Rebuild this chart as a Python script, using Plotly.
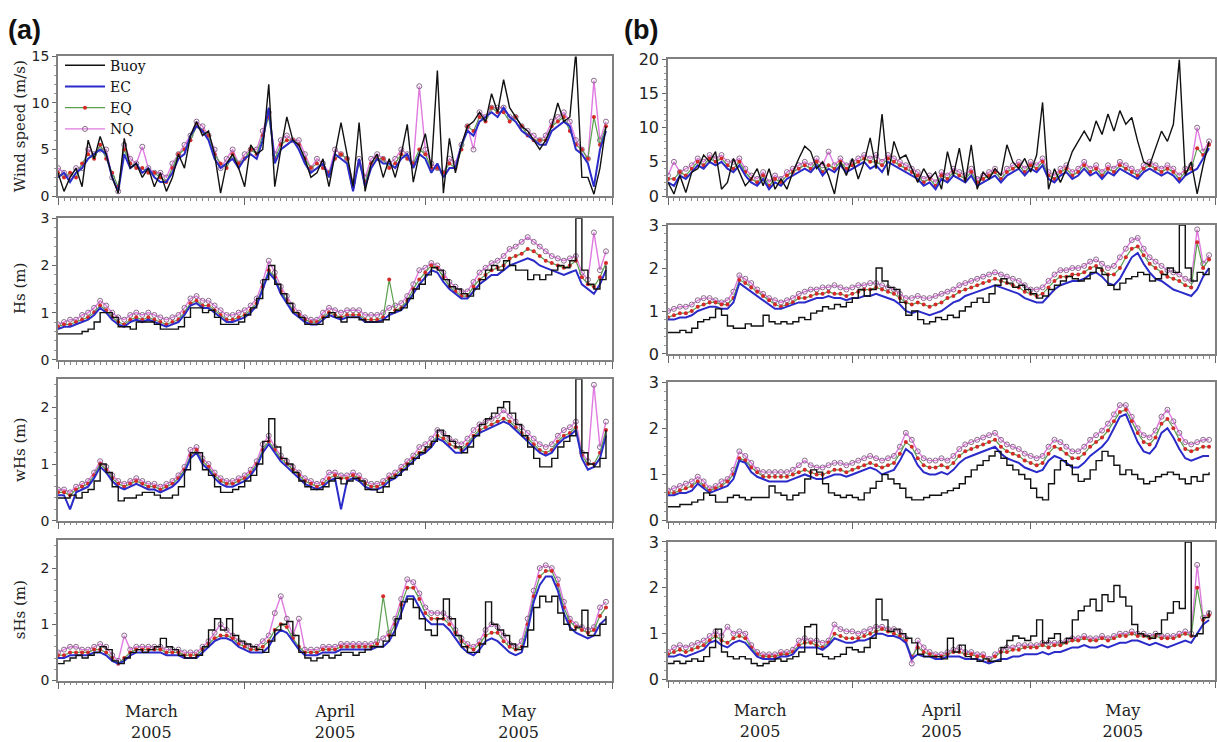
import pandas as pd
import plotly.graph_objects as go

# ---------------- data (daily values, 1 Mar 2005 .. 31 May 2005) ----------------
dates = pd.date_range("2005-03-01", periods=92, freq="D")

# (a) wind speed
a_wind_buoy = [2.5, 0.5, 2.0, 3.0, 1.0, 6.0, 4.0, 6.4, 4.5, 2.0,
               0.3, 6.2, 3.0, 3.5, 2.0, 3.0, 1.0, 2.5, 0.5, 2.0,
               4.5, 3.0, 6.5, 8.0, 6.5, 7.0, 4.5, 0.3, 3.5, 4.5,
               3.0, 1.0, 5.5, 4.5, 5.0, 12.0, 1.0, 5.0, 8.5, 6.0,
               5.5, 4.0, 2.0, 2.5, 4.0, 1.0, 4.5, 7.9, 4.5, 1.0,
               7.9, 0.5, 3.5, 4.5, 2.0, 4.0, 2.0, 4.5, 7.7, 1.5,
               4.5, 6.7, 3.0, 13.5, 0.3, 6.2, 2.5, 5.5, 7.5, 8.0,
               9.0, 8.0, 11.0, 9.0, 12.5, 9.5, 8.5, 7.5, 7.0, 6.0,
               5.0, 6.0, 7.5, 10.0, 8.0, 8.5, 15.5, 2.0, 2.0, 0.2,
               3.0, 7.5]
a_wind_ec = [2.0, 2.5, 1.5, 2.5, 3.0, 4.0, 4.5, 5.0, 4.5, 2.0,
             0.5, 4.5, 3.0, 3.5, 2.5, 3.0, 2.0, 1.5, 1.5, 2.5,
             4.0, 4.5, 6.5, 7.5, 7.0, 6.0, 4.0, 3.0, 3.5, 4.0,
             3.0, 4.0, 4.5, 4.0, 6.0, 9.5, 3.5, 5.0, 5.5, 6.0,
             5.0, 3.5, 2.5, 3.0, 3.5, 2.0, 4.5, 4.0, 3.5, 0.5,
             4.0, 1.0, 3.0, 4.0, 3.5, 3.5, 3.0, 4.0, 4.5, 3.0,
             4.5, 4.0, 2.5, 3.5, 2.0, 3.0, 3.0, 5.5, 7.0, 6.5,
             8.0, 8.5, 9.0, 8.5, 9.5, 8.5, 8.0, 7.0, 6.5, 6.0,
             5.5, 5.5, 7.0, 7.5, 8.0, 7.5, 5.0, 4.5, 3.5, 1.0,
             5.0, 7.0]
a_wind_eq = [2.5, 2.0, 2.5, 2.0, 3.5, 4.5, 4.0, 5.5, 4.0, 2.5,
             1.0, 5.0, 3.5, 3.0, 3.0, 2.5, 2.5, 2.0, 1.5, 3.0,
             4.5, 5.0, 6.0, 7.5, 7.0, 6.5, 4.5, 3.5, 3.0, 4.5,
             3.5, 4.0, 5.0, 4.5, 6.5, 8.5, 4.0, 5.5, 6.0, 6.0,
             5.5, 4.0, 3.0, 3.5, 3.0, 2.5, 4.0, 4.5, 4.0, 1.0,
             3.5, 1.5, 3.5, 4.0, 4.0, 3.0, 3.5, 4.5, 4.0, 3.5,
             5.0, 4.5, 3.0, 3.0, 2.5, 3.5, 3.0, 5.0, 7.5, 7.0,
             8.5, 8.0, 9.5, 9.0, 9.0, 8.0, 8.5, 7.5, 6.5, 6.0,
             6.0, 6.0, 7.5, 8.0, 8.5, 7.0, 5.5, 5.0, 4.0, 8.5,
             5.5, 7.5]
a_wind_nq = [3.0, 2.5, 2.0, 3.0, 3.0, 5.0, 4.5, 5.0, 5.0, 2.0,
             0.5, 5.5, 4.0, 3.5, 5.3, 3.0, 2.5, 2.5, 2.0, 3.5,
             4.5, 5.5, 6.5, 8.0, 7.5, 6.5, 5.0, 3.0, 4.0, 5.0,
             3.5, 4.5, 5.0, 5.0, 7.0, 9.0, 4.5, 6.0, 6.5, 6.0,
             6.0, 4.5, 3.0, 4.0, 3.5, 2.5, 5.0, 4.5, 4.0, 1.5,
             4.0, 2.0, 4.0, 4.5, 4.0, 3.5, 4.0, 5.0, 4.5, 3.5,
             11.8, 5.0, 3.5, 3.0, 2.5, 4.0, 3.5, 5.5, 7.5, 5.0,
             9.0, 8.5, 9.5, 9.5, 9.5, 8.5, 8.5, 7.5, 7.0, 6.5,
             6.0, 6.5, 8.0, 8.5, 9.0, 8.0, 6.0, 5.0, 4.0, 12.4,
             6.0, 8.0]

# (a) Hs
a_hs_buoy = [0.55, 0.55, 0.55, 0.55, 0.6, 0.65, 0.8, 1.0, 1.0, 0.9,
             0.7, 0.7, 0.65, 0.8, 0.8, 0.8, 0.75, 0.65, 0.65, 0.65,
             0.7, 0.9, 1.1, 1.1, 1.0, 1.05, 0.9, 0.75, 0.75, 0.75,
             0.8, 0.95, 1.1, 1.3, 1.7, 2.0, 1.6, 1.4, 1.2, 1.0,
             0.9, 0.75, 0.75, 0.75, 0.9, 1.0, 0.9, 0.8, 0.9, 0.9,
             0.85, 0.8, 0.8, 0.8, 0.85, 1.0, 1.05, 1.1, 1.3, 1.5,
             1.6, 1.8, 1.95, 1.9, 1.7, 1.55, 1.5, 1.4, 1.35, 1.5,
             1.7, 1.9, 2.0, 1.9, 2.1, 2.0, 1.9, 1.9, 1.7, 1.8,
             1.7, 1.8, 1.9, 2.0, 1.95, 2.1, 3.0, 1.9, 1.6, 1.5,
             1.7, 2.0]
a_hs_ec = [0.65, 0.7, 0.7, 0.75, 0.8, 0.85, 0.95, 1.1, 1.0, 0.85,
           0.75, 0.7, 0.8, 0.85, 0.8, 0.85, 0.8, 0.75, 0.7, 0.75,
           0.8, 0.95, 1.15, 1.2, 1.1, 1.1, 1.0, 0.9, 0.8, 0.8,
           0.85, 0.9, 1.0, 1.15, 1.5, 1.85, 1.7, 1.4, 1.2, 1.0,
           0.9, 0.8, 0.75, 0.75, 0.85, 0.95, 0.9, 0.85, 0.9, 0.9,
           0.9, 0.8, 0.8, 0.8, 0.85, 0.95, 1.0, 1.05, 1.2, 1.4,
           1.6, 1.75, 1.9, 1.85, 1.65, 1.5, 1.4, 1.3, 1.3, 1.45,
           1.6, 1.7, 1.8, 1.8, 1.9, 2.0, 2.05, 2.1, 2.15, 2.1,
           2.0, 1.95, 1.9, 1.85, 1.8, 1.85, 1.9, 1.6, 1.5, 1.4,
           1.6, 1.9]
a_hs_eq = [0.7, 0.75, 0.75, 0.8, 0.85, 0.9, 1.0, 1.15, 1.05, 0.9,
           0.8, 0.75, 0.85, 0.9, 0.85, 0.9, 0.85, 0.8, 0.75, 0.8,
           0.85, 1.0, 1.2, 1.25, 1.15, 1.15, 1.05, 0.95, 0.85, 0.85,
           0.9, 0.95, 1.05, 1.2, 1.55, 1.9, 1.75, 1.45, 1.25, 1.05,
           0.95, 0.85, 0.8, 0.8, 0.9, 1.0, 0.95, 0.9, 0.95, 0.95,
           0.95, 0.85, 0.85, 0.85, 0.9, 1.7, 1.05, 1.1, 1.25, 1.5,
           1.7, 1.85, 2.0, 1.95, 1.75, 1.55, 1.45, 1.35, 1.35, 1.55,
           1.7, 1.8, 1.9, 1.95, 2.0, 2.15, 2.2, 2.25, 2.35, 2.3,
           2.2, 2.1, 2.05, 2.0, 1.95, 2.0, 2.1, 1.75, 1.6, 1.55,
           1.75, 2.05]
a_hs_nq = [0.75, 0.8, 0.85, 0.85, 0.95, 1.0, 1.1, 1.25, 1.15, 1.0,
           0.9, 0.85, 0.95, 1.0, 0.95, 1.0, 0.95, 0.9, 0.85, 0.9,
           0.95, 1.1, 1.3, 1.35, 1.25, 1.25, 1.15, 1.05, 0.95, 0.95,
           1.0, 1.05, 1.15, 1.3, 1.65, 2.1, 1.85, 1.55, 1.35, 1.15,
           1.0, 0.9, 0.85, 0.85, 1.0, 1.1, 1.05, 1.0, 1.05, 1.05,
           1.05, 0.95, 0.95, 0.95, 1.0, 1.1, 1.15, 1.2, 1.35, 1.6,
           1.9, 1.95, 2.05, 2.0, 1.85, 1.65, 1.55, 1.45, 1.45, 1.65,
           1.85, 1.95, 2.05, 2.1, 2.2, 2.35, 2.4, 2.5, 2.6, 2.5,
           2.4, 2.3, 2.2, 2.15, 2.1, 2.15, 2.2, 1.85, 1.7, 2.7,
           1.9, 2.3]

# (a) wHs
a_whs_buoy = [0.4, 0.4, 0.45, 0.4, 0.5, 0.55, 0.7, 1.0, 0.85, 0.6,
              0.35, 0.4, 0.4, 0.45, 0.5, 0.5, 0.45, 0.4, 0.4, 0.45,
              0.6, 0.9, 1.2, 1.2, 0.9, 0.8, 0.6, 0.5, 0.5, 0.55,
              0.6, 0.7, 0.8, 1.0, 1.4, 1.8, 1.3, 1.1, 1.0, 0.85,
              0.7, 0.6, 0.55, 0.55, 0.6, 0.7, 0.75, 0.65, 0.7, 0.75,
              0.7, 0.55, 0.55, 0.5, 0.6, 0.75, 0.8, 0.9, 1.0, 1.1,
              1.2, 1.3, 1.4, 1.6, 1.5, 1.4, 1.3, 1.2, 1.3, 1.5,
              1.7, 1.8, 1.9, 2.0, 2.1, 1.9, 1.7, 1.5, 1.3, 1.1,
              0.95, 0.95, 1.1, 1.3, 1.4, 1.5, 2.5, 1.2, 1.0, 0.95,
              1.1, 1.6]
a_whs_ec = [0.45, 0.45, 0.2, 0.5, 0.55, 0.6, 0.75, 0.95, 0.85, 0.7,
            0.6, 0.55, 0.6, 0.65, 0.6, 0.55, 0.55, 0.5, 0.55, 0.6,
            0.7, 0.85, 1.1, 1.2, 1.0, 0.9, 0.75, 0.65, 0.6, 0.6,
            0.65, 0.7, 0.8, 0.95, 1.2, 1.35, 1.2, 1.05, 0.95, 0.85,
            0.75, 0.65, 0.6, 0.55, 0.6, 0.7, 0.75, 0.2, 0.7, 0.75,
            0.7, 0.6, 0.55, 0.55, 0.6, 0.7, 0.75, 0.85, 0.95, 1.05,
            1.15, 1.2, 1.3, 1.45, 1.4, 1.3, 1.2, 1.2, 1.3, 1.45,
            1.55, 1.6, 1.65, 1.7, 1.75, 1.7, 1.6, 1.5, 1.4, 1.3,
            1.2, 1.15, 1.2, 1.35, 1.45, 1.5, 1.6, 1.1, 0.9, 0.95,
            1.1, 1.5]
a_whs_eq = [0.5, 0.5, 0.45, 0.55, 0.6, 0.65, 0.8, 1.0, 0.9, 0.75,
            0.65, 0.6, 0.65, 0.7, 0.65, 0.6, 0.6, 0.55, 0.6, 0.65,
            0.75, 0.9, 1.15, 1.25, 1.05, 0.95, 0.8, 0.7, 0.65, 0.65,
            0.7, 0.75, 0.85, 1.0, 1.25, 1.4, 1.25, 1.1, 1.0, 0.9,
            0.8, 0.7, 0.65, 0.6, 0.65, 0.75, 0.8, 0.75, 0.75, 0.8,
            0.75, 0.65, 0.6, 0.6, 0.65, 0.75, 0.8, 0.9, 1.0, 1.1,
            1.2, 1.25, 1.35, 1.5, 1.45, 1.35, 1.3, 1.25, 1.35, 1.5,
            1.6, 1.65, 1.7, 1.75, 1.8, 1.75, 1.65, 1.55, 1.45, 1.35,
            1.25, 1.2, 1.25, 1.4, 1.5, 1.55, 1.65, 1.15, 1.0, 1.0,
            1.2, 1.6]
a_whs_nq = [0.55, 0.55, 0.5, 0.6, 0.65, 0.7, 0.85, 1.05, 0.95, 0.8,
            0.7, 0.65, 0.7, 0.75, 0.7, 0.65, 0.65, 0.6, 0.65, 0.7,
            0.8, 0.95, 1.25, 1.3, 1.1, 1.0, 0.85, 0.75, 0.7, 0.7,
            0.75, 0.8, 0.9, 1.05, 1.35, 1.5, 1.3, 1.15, 1.05, 0.95,
            0.85, 0.75, 0.7, 0.65, 0.7, 0.85, 0.85, 0.8, 0.8, 0.85,
            0.8, 0.7, 0.65, 0.65, 0.7, 0.8, 0.85, 0.95, 1.05, 1.15,
            1.3, 1.35, 1.45, 1.6, 1.55, 1.45, 1.4, 1.35, 1.45, 1.6,
            1.7, 1.75, 1.8, 1.85, 1.95, 1.85, 1.75, 1.65, 1.55, 1.45,
            1.35, 1.3, 1.35, 1.5, 1.6, 1.65, 1.75, 1.2, 1.05, 2.4,
            1.3, 1.75]

# (a) sHs
a_shs_buoy = [0.3, 0.35, 0.4, 0.45, 0.4, 0.45, 0.5, 0.6, 0.55, 0.35,
              0.3, 0.4, 0.5, 0.55, 0.5, 0.55, 0.6, 0.75, 0.6, 0.55,
              0.45, 0.4, 0.4, 0.45, 0.6, 0.9, 1.1, 0.9, 1.1, 0.8,
              0.7, 0.65, 0.6, 0.55, 0.5, 0.7, 0.9, 1.0, 1.05, 0.8,
              0.5, 0.4, 0.35, 0.4, 0.45, 0.4, 0.45, 0.5, 0.5, 0.45,
              0.5, 0.55, 0.6, 0.6, 0.7, 0.8, 1.1, 1.4, 1.45, 1.3,
              1.1, 0.9, 0.8, 1.1, 1.45, 1.1, 0.8, 0.6, 0.5, 0.5,
              0.65, 1.4, 1.0, 0.9, 0.8, 0.65, 0.55, 0.6, 0.9, 1.3,
              1.5, 1.4, 1.5, 1.2, 1.0, 0.9, 0.95, 1.25, 0.8, 0.8,
              1.0, 1.15]
a_shs_ec = [0.4, 0.4, 0.45, 0.45, 0.45, 0.45, 0.5, 0.5, 0.45, 0.35,
            0.3, 0.35, 0.45, 0.5, 0.5, 0.5, 0.5, 0.5, 0.45, 0.45,
            0.45, 0.4, 0.4, 0.4, 0.5, 0.6, 0.7, 0.75, 0.75, 0.7,
            0.6, 0.55, 0.5, 0.5, 0.5, 0.6, 0.8, 0.9, 0.85, 0.7,
            0.55, 0.45, 0.45, 0.45, 0.5, 0.5, 0.5, 0.55, 0.55, 0.55,
            0.55, 0.55, 0.55, 0.6, 0.6, 0.7, 0.9, 1.2, 1.5, 1.5,
            1.3, 1.1, 1.0, 1.0, 1.0, 0.9, 0.75, 0.6, 0.5, 0.45,
            0.55, 0.7, 0.75, 0.7, 0.6, 0.5, 0.45, 0.5, 0.9, 1.4,
            1.7, 1.85, 1.85, 1.6, 1.2, 0.95, 0.85, 0.8, 0.75, 0.8,
            1.0, 1.1]
a_shs_eq = [0.45, 0.45, 0.5, 0.5, 0.5, 0.5, 0.55, 0.55, 0.5, 0.4,
            0.3, 0.4, 0.5, 0.55, 0.55, 0.55, 0.55, 0.55, 0.5, 0.5,
            0.5, 0.45, 0.45, 0.45, 0.55, 0.65, 0.75, 0.8, 0.8, 0.75,
            0.65, 0.6, 0.55, 0.55, 0.6, 0.7, 0.9, 1.0, 0.95, 0.75,
            0.6, 0.5, 0.5, 0.5, 0.55, 0.55, 0.55, 0.6, 0.6, 0.6,
            0.6, 0.6, 0.6, 0.65, 1.5, 0.8, 1.0, 1.35, 1.65, 1.65,
            1.45, 1.2, 1.1, 1.1, 1.1, 1.0, 0.85, 0.7, 0.6, 0.55,
            0.65, 0.8, 0.85, 0.85, 0.7, 0.6, 0.55, 0.6, 1.0, 1.5,
            1.85, 1.95, 1.95, 1.7, 1.3, 1.05, 0.95, 0.9, 0.85, 0.9,
            1.15, 1.3]
a_shs_nq = [0.5, 0.55, 0.6, 0.6, 0.55, 0.55, 0.6, 0.65, 0.6, 0.45,
            0.35, 0.8, 0.55, 0.6, 0.6, 0.6, 0.6, 0.6, 0.55, 0.55,
            0.55, 0.5, 0.5, 0.5, 0.6, 0.7, 0.85, 1.0, 0.9, 0.8,
            0.7, 0.65, 0.6, 0.6, 0.7, 0.8, 1.2, 1.5, 1.1, 0.8,
            1.1, 0.55, 0.55, 0.55, 0.6, 0.6, 0.6, 0.65, 0.65, 0.65,
            0.65, 0.65, 0.65, 0.7, 0.75, 0.85, 1.1, 1.45, 1.8, 1.75,
            1.55, 1.3, 1.2, 1.2, 1.2, 1.1, 0.9, 0.75, 0.65, 0.6,
            0.7, 0.9, 1.0, 0.95, 0.8, 0.65, 0.6, 0.7, 1.1, 1.6,
            2.0, 2.05, 2.0, 1.8, 1.4, 1.1, 1.0, 0.95, 0.9, 0.95,
            1.3, 1.4]

# (b) wind speed
b_wind_buoy = [2.0, 0.3, 3.0, 0.5, 3.5, 4.0, 6.0, 5.0, 6.5, 1.0,
               2.0, 5.5, 3.5, 1.5, 2.5, 4.0, 1.5, 4.0, 1.0, 2.5,
               1.0, 3.5, 5.5, 7.3, 6.5, 4.0, 5.0, 3.0, 0.3, 5.0,
               3.0, 5.5, 2.5, 5.0, 8.5, 4.0, 12.0, 3.0, 8.0, 5.5,
               6.0, 4.0, 2.0, 4.0, 2.5, 3.5, 1.0, 6.5, 3.0, 7.0,
               2.0, 7.5, 1.0, 3.5, 2.5, 4.0, 3.0, 7.5, 5.0, 4.0,
               5.5, 3.5, 6.0, 13.7, 1.0, 4.0, 2.0, 4.0, 6.5, 8.0,
               9.5, 8.0, 11.0, 9.0, 12.0, 9.5, 12.5, 10.5, 11.5, 8.0,
               5.0, 4.5, 7.0, 9.5, 8.0, 10.5, 20.0, 3.0, 5.0, 0.3,
               4.5, 8.0]
b_wind_ec = [2.0, 1.5, 3.0, 2.5, 3.5, 4.5, 4.0, 5.0, 4.5, 5.0,
             4.0, 3.5, 4.5, 3.0, 2.0, 1.5, 2.5, 1.0, 2.0, 1.5,
             2.5, 3.0, 3.5, 4.0, 3.5, 4.5, 3.0, 4.0, 3.5, 4.5,
             3.5, 4.0, 4.5, 5.0, 4.0, 4.5, 3.5, 5.0, 4.5, 4.0,
             3.5, 3.0, 2.5, 1.5, 2.0, 1.0, 2.5, 2.0, 3.0, 2.5,
             2.0, 3.0, 1.5, 2.0, 2.5, 3.0, 2.0, 3.0, 3.5, 4.0,
             3.0, 4.0, 3.5, 4.5, 2.5, 2.0, 3.0, 3.5, 2.5, 3.0,
             4.0, 3.0, 3.5, 2.5, 3.5, 3.0, 4.0, 3.5, 3.0, 2.5,
             3.5, 4.0, 3.5, 3.0, 3.5, 3.0, 2.0, 3.0, 3.5, 4.0,
             5.5, 7.0]
b_wind_eq = [2.5, 2.5, 3.5, 3.0, 4.0, 5.0, 4.5, 5.5, 5.0, 5.5,
             4.5, 4.0, 5.0, 3.5, 2.5, 2.0, 3.0, 1.5, 2.5, 2.0,
             3.0, 3.5, 4.0, 4.5, 4.0, 5.0, 3.5, 4.5, 4.0, 5.0,
             4.0, 4.5, 5.0, 5.5, 5.0, 5.0, 4.5, 5.5, 5.0, 4.5,
             4.0, 3.5, 3.0, 2.0, 2.5, 1.5, 3.0, 2.5, 3.5, 3.0,
             2.5, 3.5, 2.0, 2.5, 3.0, 3.5, 2.5, 3.5, 4.0, 4.5,
             3.5, 4.5, 4.0, 5.0, 3.0, 2.5, 3.5, 4.0, 3.0, 3.5,
             4.5, 3.5, 4.0, 3.0, 4.0, 3.5, 4.5, 4.0, 3.5, 3.0,
             4.0, 4.5, 4.0, 3.5, 4.0, 3.5, 2.5, 3.5, 4.0, 7.0,
             6.0, 7.5]
b_wind_nq = [3.0, 5.0, 3.5, 4.0, 4.5, 5.5, 5.0, 6.0, 5.5, 6.0,
             5.0, 5.0, 5.5, 4.0, 3.0, 2.5, 3.5, 2.0, 3.0, 2.5,
             3.5, 4.0, 4.5, 5.0, 4.5, 5.5, 4.5, 6.5, 4.5, 5.5,
             4.5, 5.0, 5.5, 6.0, 5.5, 6.0, 5.0, 6.0, 5.5, 5.0,
             4.5, 4.0, 3.5, 2.5, 3.0, 2.0, 3.5, 3.0, 4.0, 3.5,
             3.0, 4.0, 2.5, 3.0, 3.5, 4.0, 3.0, 4.0, 4.5, 5.0,
             4.0, 5.0, 4.5, 5.5, 3.5, 3.0, 4.0, 4.5, 3.5, 4.0,
             5.0, 4.0, 4.5, 3.5, 4.5, 4.0, 5.0, 4.5, 4.0, 3.5,
             4.5, 5.0, 4.5, 4.0, 4.5, 4.0, 3.0, 4.0, 4.5, 10.0,
             6.5, 8.0]

# (b) Hs
b_hs_buoy = [0.5, 0.5, 0.55, 0.5, 0.6, 0.75, 0.8, 0.85, 1.05, 0.9,
             0.65, 0.6, 0.6, 0.7, 0.65, 0.65, 0.9, 0.75, 0.7, 0.75,
             0.7, 0.75, 0.85, 0.8, 0.95, 1.0, 1.1, 1.05, 1.15, 1.1,
             1.2, 1.3, 1.5, 1.35, 1.5, 2.0, 1.7, 1.55, 1.5, 1.2,
             0.9, 1.0, 0.8, 0.7, 0.75, 0.85, 0.8, 0.9, 0.85, 1.0,
             1.1, 1.2, 1.3, 1.2, 1.4, 1.6, 1.75, 1.65, 1.55, 1.6,
             1.5, 1.4, 1.3, 1.35, 1.5, 1.6, 1.7, 1.8, 1.75, 1.7,
             1.75, 1.9, 2.0, 1.85, 1.6, 1.5, 1.65, 1.75, 1.8, 1.9,
             1.85, 1.7, 1.75, 1.85, 2.0, 1.9, 3.0, 2.0, 1.7, 1.9,
             1.85, 2.0]
b_hs_ec = [0.8, 0.8, 0.85, 0.85, 0.9, 1.0, 1.05, 1.1, 1.1, 1.05,
           1.05, 1.2, 1.65, 1.55, 1.45, 1.35, 1.25, 1.15, 1.05, 1.05,
           1.1, 1.15, 1.2, 1.2, 1.25, 1.3, 1.3, 1.35, 1.3, 1.3,
           1.25, 1.3, 1.3, 1.35, 1.35, 1.4, 1.35, 1.3, 1.25, 1.15,
           1.0, 0.95, 1.0, 0.95, 0.9, 0.95, 1.0, 1.1, 1.2, 1.25,
           1.35, 1.4, 1.45, 1.5, 1.55, 1.6, 1.55, 1.5, 1.45, 1.4,
           1.3, 1.25, 1.2, 1.2, 1.35, 1.5, 1.6, 1.65, 1.7, 1.7,
           1.75, 1.85, 1.9, 1.8, 1.65, 1.6, 1.75, 2.0, 2.25, 2.35,
           2.1, 1.9, 1.75, 1.7, 1.6, 1.5, 1.45, 1.4, 1.35, 1.5,
           1.8, 2.0]
b_hs_eq = [0.85, 0.9, 0.95, 0.95, 1.0, 1.1, 1.15, 1.2, 1.2, 1.15,
           1.15, 1.3, 1.72, 1.65, 1.55, 1.45, 1.35, 1.25, 1.15, 1.1,
           1.15, 1.2, 1.3, 1.3, 1.35, 1.4, 1.4, 1.45, 1.4, 1.4,
           1.35, 1.4, 1.45, 1.5, 1.5, 1.55, 1.5, 1.45, 1.4, 1.3,
           1.2, 1.15, 1.2, 1.15, 1.1, 1.15, 1.2, 1.3, 1.35, 1.45,
           1.5, 1.55, 1.6, 1.65, 1.7, 1.75, 1.7, 1.65, 1.6, 1.55,
           1.45, 1.4, 1.35, 1.4, 1.55, 1.7, 1.8, 1.8, 1.85, 1.85,
           1.9, 2.0, 2.05, 1.95, 1.85, 1.85, 2.0, 2.25, 2.45, 2.5,
           2.3, 2.1, 2.0, 1.9, 1.8, 1.75, 1.7, 1.6, 1.55, 2.6,
           2.0, 2.2]
b_hs_nq = [1.0, 1.05, 1.1, 1.1, 1.15, 1.25, 1.3, 1.3, 1.25, 1.2,
           1.25, 1.45, 1.83, 1.75, 1.65, 1.5, 1.4, 1.3, 1.25, 1.2,
           1.25, 1.3, 1.4, 1.45, 1.5, 1.5, 1.55, 1.55, 1.6, 1.55,
           1.5, 1.55, 1.6, 1.6, 1.65, 1.65, 1.6, 1.55, 1.5, 1.4,
           1.3, 1.3, 1.35, 1.3, 1.3, 1.35, 1.4, 1.45, 1.5, 1.6,
           1.65, 1.7, 1.75, 1.8, 1.85, 1.9, 1.85, 1.8, 1.75, 1.7,
           1.6, 1.5, 1.5, 1.55, 1.7, 1.85, 1.95, 1.95, 2.0, 2.0,
           2.05, 2.15, 2.2, 2.1, 2.0, 2.05, 2.25, 2.45, 2.65, 2.7,
           2.45, 2.25, 2.15, 2.05, 1.95, 1.9, 1.85, 1.75, 1.7, 2.9,
           2.1, 2.3]

# (b) wHs
b_whs_buoy = [0.3, 0.3, 0.35, 0.35, 0.4, 0.45, 0.6, 0.55, 0.4, 0.4,
              0.5, 0.55, 0.5, 0.45, 0.5, 0.5, 0.5, 0.75, 0.6, 0.55,
              0.45, 0.55, 0.6, 0.9, 1.1, 1.05, 0.8, 0.6, 0.55, 0.5,
              0.55, 0.5, 0.45, 0.6, 0.7, 0.85, 1.0, 0.9, 0.8, 0.7,
              0.5, 0.45, 0.45, 0.5, 0.55, 0.55, 0.6, 0.65, 0.7, 0.8,
              0.95, 1.1, 1.2, 1.3, 1.4, 1.5, 1.35, 1.2, 1.1, 1.0,
              0.9, 0.7, 0.5, 0.45, 0.8, 1.1, 1.3, 1.2, 1.0, 0.85,
              0.9, 1.1, 1.3, 1.5, 1.4, 1.2, 1.0, 1.1, 1.0, 0.9,
              0.8, 0.85, 0.95, 1.0, 1.05, 1.0, 0.9, 0.8, 0.95, 0.85,
              1.0, 1.05]
b_whs_ec = [0.55, 0.55, 0.6, 0.6, 0.65, 0.8, 0.7, 0.6, 0.65, 0.7,
            0.75, 0.9, 1.3, 1.25, 1.05, 0.95, 0.9, 0.85, 0.85, 0.85,
            0.85, 0.9, 0.95, 1.0, 0.95, 0.9, 0.9, 0.95, 1.0, 1.0,
            0.95, 1.0, 1.05, 1.1, 1.15, 1.1, 1.0, 1.05, 1.1, 1.3,
            1.55, 1.45, 1.2, 1.05, 1.0, 1.0, 1.05, 1.0, 1.1, 1.25,
            1.35, 1.4, 1.45, 1.5, 1.55, 1.6, 1.45, 1.35, 1.3, 1.25,
            1.15, 1.1, 1.05, 1.1, 1.3, 1.4, 1.35, 1.25, 1.15, 1.15,
            1.25, 1.4, 1.5, 1.6, 1.75, 2.0, 2.25, 2.3, 2.0, 1.7,
            1.5, 1.45, 1.6, 1.9, 2.0, 1.8, 1.55, 1.35, 1.3, 1.35,
            1.4, 1.4]
b_whs_eq = [0.6, 0.6, 0.65, 0.7, 0.75, 0.85, 0.75, 0.65, 0.7, 0.75,
            0.85, 1.0, 1.35, 1.3, 1.15, 1.05, 0.95, 0.95, 0.95, 0.95,
            0.95, 1.0, 1.05, 1.1, 1.05, 1.0, 1.0, 1.05, 1.1, 1.1,
            1.05, 1.1, 1.15, 1.2, 1.25, 1.2, 1.15, 1.2, 1.25, 1.45,
            1.7, 1.6, 1.35, 1.2, 1.15, 1.15, 1.2, 1.15, 1.25, 1.4,
            1.5, 1.55, 1.6, 1.65, 1.7, 1.75, 1.6, 1.5, 1.45, 1.4,
            1.3, 1.25, 1.2, 1.25, 1.45, 1.6, 1.55, 1.45, 1.35, 1.35,
            1.45, 1.6, 1.7, 1.8, 1.95, 2.15, 2.35, 2.4, 2.15, 1.9,
            1.7, 1.65, 1.8, 2.1, 2.2, 2.0, 1.75, 1.55, 1.5, 1.55,
            1.6, 1.6]
b_whs_nq = [0.65, 0.7, 0.75, 0.8, 0.85, 0.95, 0.85, 0.7, 0.75, 0.85,
            0.9, 1.1, 1.5, 1.4, 1.25, 1.1, 1.05, 1.05, 1.05, 1.05,
            1.05, 1.1, 1.2, 1.3, 1.2, 1.15, 1.15, 1.2, 1.25, 1.25,
            1.2, 1.25, 1.3, 1.35, 1.4, 1.35, 1.3, 1.35, 1.4, 1.6,
            1.9, 1.75, 1.5, 1.35, 1.3, 1.3, 1.35, 1.3, 1.4, 1.55,
            1.65, 1.7, 1.75, 1.8, 1.85, 1.9, 1.75, 1.65, 1.6, 1.55,
            1.45, 1.4, 1.35, 1.4, 1.6, 1.75, 1.7, 1.6, 1.5, 1.5,
            1.6, 1.75, 1.85, 1.95, 2.1, 2.3, 2.5, 2.5, 2.25, 2.0,
            1.85, 1.8, 1.95, 2.25, 2.4, 2.15, 1.9, 1.7, 1.65, 1.7,
            1.75, 1.75]

# (b) sHs
b_shs_buoy = [0.35, 0.4, 0.35, 0.4, 0.45, 0.4, 0.5, 0.7, 1.1, 0.6,
              0.5, 0.45, 0.5, 0.45, 0.35, 0.3, 0.35, 0.4, 0.45, 0.4,
              0.45, 0.5, 0.6, 1.15, 1.2, 0.55, 0.5, 0.45, 0.5, 0.55,
              0.7, 0.65, 0.6, 0.7, 0.9, 1.75, 1.3, 1.05, 1.1, 1.0,
              0.9, 0.8, 0.55, 0.5, 0.5, 0.5, 0.45, 0.9, 0.6, 0.75,
              0.5, 0.45, 0.4, 0.45, 0.4, 0.4, 0.7, 0.85, 0.95, 0.9,
              0.85, 0.95, 1.3, 0.8, 0.9, 1.0, 0.8, 0.9, 1.3, 1.5,
              1.6, 1.75, 1.5, 1.85, 1.7, 2.05, 1.8, 1.6, 1.2, 1.0,
              0.95, 0.9, 1.0, 1.3, 1.45, 1.7, 1.55, 3.0, 0.95, 1.0,
              1.35, 1.5]
b_shs_ec = [0.5, 0.5, 0.55, 0.5, 0.55, 0.6, 0.65, 0.8, 0.85, 0.75,
            0.7, 0.8, 0.85, 0.8, 0.65, 0.5, 0.45, 0.45, 0.45, 0.5,
            0.5, 0.55, 0.7, 0.7, 0.7, 0.7, 0.65, 0.75, 0.9, 0.85,
            0.8, 0.8, 0.85, 0.85, 0.9, 1.0, 1.0, 0.95, 0.95, 0.9,
            0.8, 0.45, 0.55, 0.5, 0.5, 0.45, 0.45, 0.5, 0.5, 0.5,
            0.45, 0.45, 0.45, 0.4, 0.35, 0.4, 0.45, 0.45, 0.5, 0.5,
            0.55, 0.55, 0.55, 0.6, 0.55, 0.6, 0.6, 0.65, 0.7, 0.7,
            0.75, 0.7, 0.7, 0.75, 0.7, 0.75, 0.8, 0.8, 0.85, 0.85,
            0.8, 0.75, 0.8, 0.75, 0.7, 0.75, 0.8, 0.85, 0.8, 1.0,
            1.2, 1.3]
b_shs_eq = [0.55, 0.6, 0.65, 0.6, 0.65, 0.7, 0.75, 0.85, 0.95, 0.85,
            0.8, 0.9, 0.95, 0.9, 0.7, 0.55, 0.5, 0.5, 0.5, 0.55,
            0.55, 0.6, 0.75, 0.8, 0.8, 0.75, 0.7, 0.8, 1.0, 0.95,
            0.9, 0.9, 0.9, 0.95, 1.0, 1.05, 1.1, 1.05, 1.0, 0.95,
            0.85, 0.5, 0.7, 0.6, 0.55, 0.5, 0.5, 0.55, 0.6, 0.6,
            0.55, 0.55, 0.5, 0.5, 0.4, 0.5, 0.6, 0.6, 0.65, 0.65,
            0.7, 0.7, 0.7, 0.75, 0.7, 0.75, 0.75, 0.8, 0.85, 0.85,
            0.9, 0.85, 0.85, 0.9, 0.85, 0.9, 0.95, 0.95, 1.0, 0.95,
            0.95, 0.9, 0.95, 0.9, 0.9, 0.9, 0.95, 1.0, 0.95, 2.0,
            1.3, 1.4]
b_shs_nq = [0.6, 0.7, 0.75, 0.7, 0.75, 0.8, 0.85, 0.95, 1.05, 0.95,
            1.15, 1.0, 1.05, 1.0, 0.75, 0.6, 0.55, 0.55, 0.55, 0.6,
            0.6, 0.65, 0.85, 0.9, 0.85, 0.85, 0.8, 0.85, 1.2, 1.1,
            1.05, 1.05, 1.0, 1.05, 1.1, 1.15, 1.15, 1.1, 1.1, 1.05,
            0.9, 0.35, 0.85, 0.7, 0.6, 0.55, 0.55, 0.6, 0.65, 0.7,
            0.6, 0.6, 0.55, 0.55, 0.45, 0.55, 0.65, 0.7, 0.7, 0.75,
            0.75, 0.75, 0.75, 0.8, 0.8, 0.8, 0.8, 0.85, 0.9, 0.9,
            0.95, 0.9, 0.9, 0.95, 0.9, 0.95, 1.0, 1.0, 1.05, 1.0,
            1.0, 0.95, 1.0, 0.95, 0.95, 0.95, 1.0, 1.05, 1.0, 2.5,
            1.35, 1.45]

series_names = ["Buoy", "EC", "EQ", "NQ"]
y_titles = ["Wind speed (m/s)", "Hs (m)", "wHs (m)", "sHs (m)"]

# ---------------- layout helpers ----------------
W, H = 1217, 742
def fx(p): return p / W
def fy(p): return 1 - p / H

BUOY_C = "#111111"
EC_C = "#2b2bc9"
EQ_LINE = "#5a9e4e"
EQ_MARK = "#d42a2a"
NQ_LINE = "#e07ae0"
NQ_MARK = "#8a6a8a"

panels = [
    dict(data=(a_wind_buoy, a_wind_ec, a_wind_eq, a_wind_nq), xp=(58, 612), yp=(49, 193), rng=(0, 15), dt=5, mn=1, col="a", row=0, step=False),
    dict(data=(a_hs_buoy, a_hs_ec, a_hs_eq, a_hs_nq), xp=(58, 612), yp=(216, 362), rng=(0, 3), dt=1, mn=0.2, col="a", row=1, step=True),
    dict(data=(a_whs_buoy, a_whs_ec, a_whs_eq, a_whs_nq), xp=(58, 612), yp=(382, 528), rng=(0, 2.5), dt=1, mn=0.2, col="a", row=2, step=True),
    dict(data=(a_shs_buoy, a_shs_ec, a_shs_eq, a_shs_nq), xp=(58, 612), yp=(548, 693), rng=(0, 2.5), dt=1, mn=0.2, col="a", row=3, step=True),
    dict(data=(b_wind_buoy, b_wind_ec, b_wind_eq, b_wind_nq), xp=(668, 1215), yp=(52, 193), rng=(0, 20), dt=5, mn=1, col="b", row=0, step=False),
    dict(data=(b_hs_buoy, b_hs_ec, b_hs_eq, b_hs_nq), xp=(668, 1215), yp=(223, 356), rng=(0, 3), dt=1, mn=0.2, col="b", row=1, step=True),
    dict(data=(b_whs_buoy, b_whs_ec, b_whs_eq, b_whs_nq), xp=(668, 1215), yp=(385, 528), rng=(0, 3), dt=1, mn=0.2, col="b", row=2, step=True),
    dict(data=(b_shs_buoy, b_shs_ec, b_shs_eq, b_shs_nq), xp=(668, 1215), yp=(550, 692), rng=(0, 3), dt=1, mn=0.2, col="b", row=3, step=True),
]

for p in panels:
    for arr in p["data"]:
        if len(arr) != len(dates):
            raise ValueError(f"length mismatch {len(arr)} in panel {p['col']}{p['row']}")

fig = go.Figure()
layout_axes = {}
SERIF = "DejaVu Serif"
SANS = "DejaVu Sans"

for i, p in enumerate(panels, start=1):
    xa = "x" if i == 1 else f"x{i}"
    ya = "y" if i == 1 else f"y{i}"
    buoy, ec, eq, nq = p["data"]
    first = (i == 1)
    fig.add_trace(go.Scatter(x=dates, y=nq, name="NQ", xaxis=xa, yaxis=ya, mode="lines+markers",
                             line=dict(color=NQ_LINE, width=1.4),
                             marker=dict(symbol="circle-open", size=5, color=NQ_MARK, line=dict(width=1)),
                             showlegend=first, legendrank=4))
    fig.add_trace(go.Scatter(x=dates, y=eq, name="EQ", xaxis=xa, yaxis=ya, mode="lines+markers",
                             line=dict(color=EQ_LINE, width=1.2),
                             marker=dict(symbol="circle", size=4, color=EQ_MARK),
                             showlegend=first, legendrank=3))
    fig.add_trace(go.Scatter(x=dates, y=ec, name="EC", xaxis=xa, yaxis=ya, mode="lines",
                             line=dict(color=EC_C, width=2),
                             showlegend=first, legendrank=2))
    fig.add_trace(go.Scatter(x=dates, y=buoy, name="Buoy", xaxis=xa, yaxis=ya, mode="lines",
                             line=dict(color=BUOY_C, width=1.4, shape="hv" if p["step"] else "linear"),
                             showlegend=first, legendrank=1))

    xkey = "xaxis" if i == 1 else f"xaxis{i}"
    ykey = "yaxis" if i == 1 else f"yaxis{i}"
    bottom = p["row"] == 3
    layout_axes[xkey] = dict(
        domain=[fx(p["xp"][0]), fx(p["xp"][1])], anchor=ya,
        type="date", range=["2005-03-01", "2005-06-01"],
        tick0="2005-03-01", dtick="M1", ticklabelmode="period",
        tickformat="%B<br>%Y", showticklabels=bottom,
        ticks="outside", ticklen=7, tickwidth=1, tickcolor="#666",
        minor=dict(dtick=86400000, tick0="2005-03-01", ticks="outside", ticklen=3, tickcolor="#888", showgrid=False),
        showline=True, mirror=True, linecolor="#808080", linewidth=1.5,
        showgrid=False, zeroline=False,
        tickfont=dict(family=SERIF, size=16, color="#222"),
        ticklabelstandoff=9,
    )
    layout_axes[ykey] = dict(
        domain=[fy(p["yp"][1]), fy(p["yp"][0])], anchor=xa,
        range=list(p["rng"]), dtick=p["dt"], tick0=0,
        ticks="outside", ticklen=4, tickcolor="#666",
        minor=dict(dtick=p["mn"], ticks="outside", ticklen=2, tickcolor="#999", showgrid=False),
        showline=True, mirror=True, linecolor="#808080", linewidth=1.5,
        showgrid=False, zeroline=False,
        tickfont=dict(family=SANS, size=14 if p["col"] == "a" else 16, color="#222"),
    )

annotations = []
for p in panels[:4]:
    yc = (p["yp"][0] + p["yp"][1]) / 2
    annotations.append(dict(text=y_titles[p["row"]], x=fx(20), y=fy(yc), xref="paper", yref="paper",
                            textangle=-90, showarrow=False, xanchor="center", yanchor="middle",
                            font=dict(family=SERIF, size=15, color="#222")))
annotations.append(dict(text="<b>(a)</b>", x=fx(6), y=fy(22), xref="paper", yref="paper", showarrow=False,
                        xanchor="left", yanchor="middle", font=dict(family="Liberation Sans", size=27, color="#111")))
annotations.append(dict(text="<b>(b)</b>", x=fx(622), y=fy(22), xref="paper", yref="paper", showarrow=False,
                        xanchor="left", yanchor="middle", font=dict(family="Liberation Sans", size=27, color="#111")))

fig.update_layout(
    width=W, height=H,
    margin=dict(l=0, r=0, t=0, b=0),
    paper_bgcolor="white", plot_bgcolor="white",
    showlegend=True,
    legend=dict(x=fx(60), y=fy(42), xanchor="left", yanchor="top",
                bgcolor="rgba(255,255,255,0)", font=dict(family=SERIF, size=14, color="#111"),
                tracegroupgap=0, itemwidth=40),
    annotations=annotations,
    **layout_axes,
)

fig.write_html("out.html")
